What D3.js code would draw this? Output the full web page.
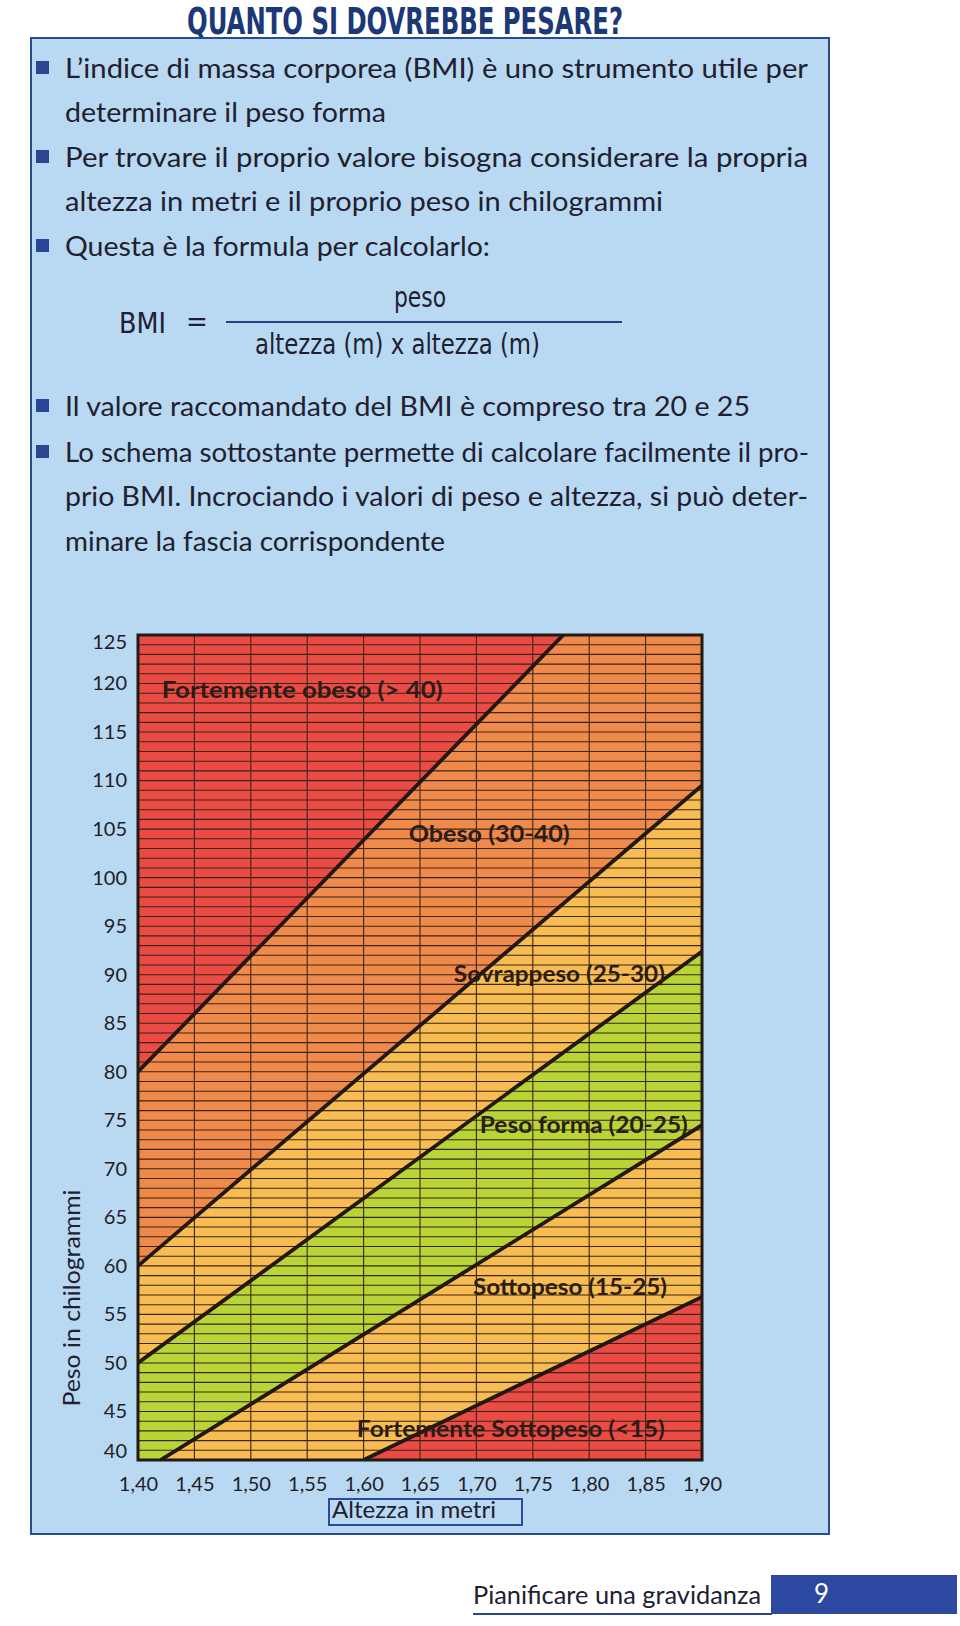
<!DOCTYPE html>
<html><head><meta charset="utf-8">
<script src="https://cdn.jsdelivr.net/npm/d3@7"></script>
<style>body{margin:0;background:#fff}svg{display:block}</style>
</head><body>
<script>
// ---------------- data ----------------
const heightTicks = [1.40,1.45,1.50,1.55,1.60,1.65,1.70,1.75,1.80,1.85,1.90];
const weightTicks = [40,45,50,55,60,65,70,75,80,85,90,95,100,105,110,115,120,125];
const zoneNames = ["Fortemente obeso (> 40)","Obeso (30-40)","Sovrappeso (25-30)","Peso forma (20-25)","Sottopeso (15-25)","Fortemente Sottopeso (<15)"];
const boundaryBMI = [40,30,25,20,15];
const boundaryStartHeight = [1.40,1.40,1.40,1.42,1.60];
const boundaryStartWeight = [80,60,50,40,40];
const boundaryEndHeight = [1.777,1.90,1.90,1.90,1.90];
const boundaryEndWeight = [125,109.5,92.4,74.5,56.8];
const bodyLines = [
  "L\u2019indice di massa corporea (BMI) è uno strumento utile per",
  "determinare il peso forma",
  "Per trovare il proprio valore bisogna considerare la propria",
  "altezza in metri e il proprio peso in chilogrammi",
  "Questa è la formula per calcolarlo:",
  "Il valore raccomandato del BMI è compreso tra 20 e 25",
  "Lo schema sottostante permette di calcolare facilmente il pro-",
  "prio BMI. Incrociando i valori di peso e altezza, si può deter-",
  "minare la fascia corrispondente"
];
const bodyBullets = [true,false,true,false,true,true,true,false,false];

// ---------------- layout / style ----------------
const zoneColors = ["#ea4b45","#f08a4b","#f7bd52","#b9d437","#f7bd52","#ea4b45"];
const bodyBaselines = [78,122,167,211,256,416,462,506,551];
const bodyWidths = [743,321,743,598,425,685,744,743,380];
const labelAnchorH = [1.421,1.640,1.680,1.703,1.697,1.594];
const labelAnchorW = [118.5,103.7,89.25,73.7,57.0,42.4];
const labelWidths = [281,161,211,208,194,308];

const W = 960, H = 1626;
const svg = d3.select("body").append("svg").attr("width", W).attr("height", H)
  .style("font-family", "Lato, 'Open Sans', sans-serif");
svg.append("rect").attr("width", W).attr("height", H).attr("fill", "#ffffff");

// Title
svg.append("text").attr("x", 405).attr("y", 34).attr("text-anchor", "middle")
  .attr("font-family", "'Liberation Sans Narrow','DejaVu Sans Condensed','Roboto',sans-serif")
  .attr("font-weight", "bold").attr("font-size", 38).attr("fill", "#1b3976")
  .attr("textLength", 436).attr("lengthAdjust", "spacingAndGlyphs")
  .text("QUANTO SI DOVREBBE PESARE?");

// Blue box
svg.append("rect").attr("x", 31).attr("y", 38).attr("width", 798).attr("height", 1496)
  .attr("fill", "#b9d8f1").attr("stroke", "#2b4a96").attr("stroke-width", 2);

// Body text
const tx = 65;
bodyLines.forEach((t, i) => {
  svg.append("text").attr("x", tx).attr("y", bodyBaselines[i])
    .attr("font-size", 27).attr("fill", "#202030")
    .attr("textLength", bodyWidths[i]).attr("lengthAdjust", "spacingAndGlyphs")
    .text(t);
  if (bodyBullets[i]) {
    svg.append("rect").attr("x", 36).attr("y", bodyBaselines[i] - 17).attr("width", 13).attr("height", 13)
      .attr("fill", "#2b4595");
  }
});

// Formula
const condensed = "'Liberation Sans Narrow','DejaVu Sans Condensed','Roboto',sans-serif";
const fg = svg.append("g").attr("font-family", condensed).attr("fill", "#202030").attr("font-size", 29);
fg.append("text").attr("x", 119).attr("y", 333).attr("textLength", 47).attr("lengthAdjust", "spacingAndGlyphs").text("BMI");
fg.append("text").attr("x", 197).attr("y", 331).attr("text-anchor", "middle").text("=");
fg.append("text").attr("x", 394).attr("y", 307).attr("textLength", 52).attr("lengthAdjust", "spacingAndGlyphs").text("peso");
fg.append("text").attr("x", 255).attr("y", 354).attr("textLength", 285).attr("lengthAdjust", "spacingAndGlyphs").text("altezza (m) x altezza (m)");
svg.append("line").attr("x1", 226).attr("x2", 622).attr("y1", 322).attr("y2", 322)
  .attr("stroke", "#2a3f80").attr("stroke-width", 2);

// ---------------- chart ----------------
const x = d3.scaleLinear().domain([1.40, 1.90]).range([138, 702]);
const y = d3.scaleLinear().domain([40, 125]).range([1460, 635]);
const [x0, x1] = x.range(), [y0, y1] = [y(125), y(40)];

svg.append("clipPath").attr("id", "plotclip").append("rect")
  .attr("x", x0).attr("y", y0).attr("width", x1 - x0).attr("height", y1 - y0);
const plot = svg.append("g").attr("clip-path", "url(#plotclip)");

plot.append("rect").attr("x", x0).attr("y", y0).attr("width", x1 - x0).attr("height", y1 - y0)
  .attr("fill", zoneColors[0]);

const line = d3.line().x(d => x(d[0])).y(d => y(d[1]));
const boundaries = boundaryBMI.map((b, i) => ({
  bmi: b,
  p1: [boundaryStartHeight[i], boundaryStartWeight[i]],
  p2: [boundaryEndHeight[i], boundaryEndWeight[i]]
}));
boundaries.forEach((b, i) => {
  const pts = [b.p1, b.p2, [1.90, b.p2[1]], [1.90, 40], [b.p1[0], 40]];
  plot.append("path").attr("d", line(pts) + "Z").attr("fill", zoneColors[i + 1]);
});

// grid
const grid = plot.append("g").attr("stroke", "#3a2519").attr("stroke-width", 1.1);
grid.selectAll("line.h").data(d3.range(41, 125)).join("line").attr("class", "h")
  .attr("x1", x0).attr("x2", x1).attr("y1", d => y(d)).attr("y2", d => y(d));
grid.selectAll("line.v").data(heightTicks.slice(1, -1)).join("line").attr("class", "v")
  .attr("y1", y0).attr("y2", y1).attr("x1", d => x(d)).attr("x2", d => x(d));

// boundary lines
plot.selectAll("path.bd").data(boundaries).join("path").attr("class", "bd")
  .attr("d", d => line([d.p1, d.p2])).attr("fill", "none")
  .attr("stroke", "#221713").attr("stroke-width", 3.8);

// frame
svg.append("rect").attr("x", x0).attr("y", y0).attr("width", x1 - x0).attr("height", y1 - y0)
  .attr("fill", "none").attr("stroke", "#231a15").attr("stroke-width", 3);

// zone labels
svg.append("g").selectAll("text").data(zoneNames).join("text")
  .attr("x", (d, i) => x(labelAnchorH[i])).attr("y", (d, i) => y(labelAnchorW[i]))
  .attr("font-size", 22).attr("font-weight", "bold").attr("fill", "#2a1c16")
  .attr("textLength", (d, i) => labelWidths[i]).attr("lengthAdjust", "spacingAndGlyphs")
  .text(d => d);

// axes
const yAxis = svg.append("g").attr("transform", `translate(${x0},0)`)
  .call(d3.axisLeft(y).tickValues(weightTicks).tickSize(0).tickPadding(11));
yAxis.select(".domain").remove();
yAxis.selectAll("text").attr("font-size", 20).attr("font-family", "Lato, sans-serif").attr("fill", "#1e1e28")
  .attr("transform", d => d === 125 ? "translate(0,7)" : d === 40 ? "translate(0,-9)" : null);

const xAxis = svg.append("g").attr("transform", `translate(0,${y1})`)
  .call(d3.axisBottom(x).tickValues(heightTicks).tickSize(0).tickPadding(17)
    .tickFormat(d => d.toFixed(2).replace(".", ",")));
xAxis.select(".domain").remove();
xAxis.selectAll("text").attr("font-size", 20).attr("font-family", "Lato, sans-serif").attr("fill", "#1e1e28");

// axis titles
svg.append("text").attr("transform", "translate(80,1298) rotate(-90)").attr("text-anchor", "middle")
  .attr("font-size", 24).attr("fill", "#202030")
  .attr("textLength", 217).attr("lengthAdjust", "spacingAndGlyphs")
  .text("Peso in chilogrammi");
svg.append("rect").attr("x", 329).attr("y", 1499).attr("width", 193).attr("height", 26)
  .attr("fill", "none").attr("stroke", "#2b4aa0").attr("stroke-width", 2);
svg.append("text").attr("x", 332).attr("y", 1518).attr("font-size", 24).attr("fill", "#202030")
  .attr("textLength", 164).attr("lengthAdjust", "spacingAndGlyphs")
  .text("Altezza in metri");

// footer
svg.append("text").attr("x", 473).attr("y", 1604).attr("font-size", 25).attr("fill", "#202030")
  .attr("textLength", 288).attr("lengthAdjust", "spacingAndGlyphs")
  .text("Pianificare una gravidanza");
svg.append("line").attr("x1", 473).attr("x2", 772).attr("y1", 1614).attr("y2", 1614)
  .attr("stroke", "#2c4590").attr("stroke-width", 2);
svg.append("rect").attr("x", 771).attr("y", 1575).attr("width", 186).attr("height", 39).attr("fill", "#2c48a0");
svg.append("text").attr("x", 814).attr("y", 1603).attr("font-size", 26).attr("fill", "#ffffff").text("9");
</script>
</body></html>
